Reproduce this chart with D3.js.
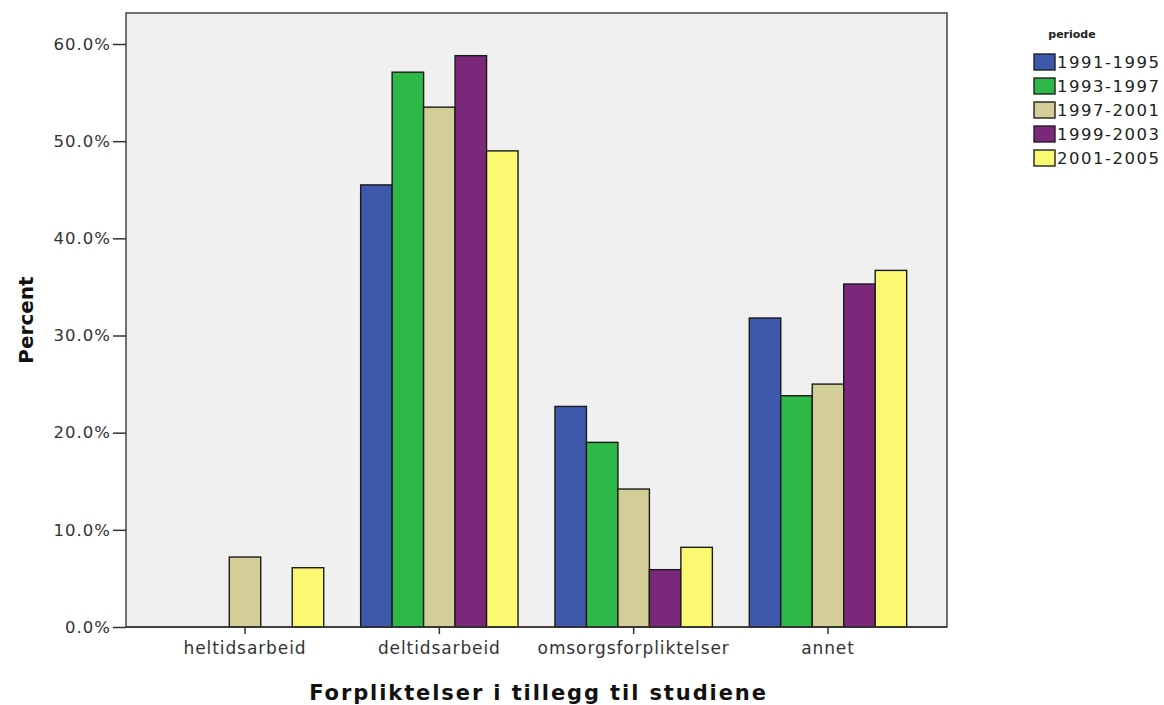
<!DOCTYPE html>
<html><head><meta charset="utf-8">
<script src="https://cdn.jsdelivr.net/npm/d3@7"></script>
<style>body{margin:0;background:#fff;}svg{display:block;font-family:"DejaVu Sans",Verdana,sans-serif;}</style>
</head><body><svg id="c" width="1164" height="705"></svg>
<script>
const categories = ["heltidsarbeid","deltidsarbeid","omsorgsforpliktelser","annet"];
const periods = ["1991-1995","1993-1997","1997-2001","1999-2003","2001-2005"];
const colors = ["#3e58ac","#2eb848","#d3ce97","#7b287b","#fbf872"];
const v1991 = [0, 45.5, 22.7, 31.8];
const v1993 = [0, 57.1, 19.0, 23.8];
const v1997 = [7.2, 53.5, 14.2, 25.0];
const v1999 = [0, 58.8, 5.9, 35.3];
const v2001 = [6.1, 49.0, 8.2, 36.7];
const seriesValues = [v1991, v1993, v1997, v1999, v2001];
const yTicks = [0,10,20,30,40,50,60];

const svg = d3.select("#c");
const L=126, R=947, T=13, B=627;
const FF = '"DejaVu Sans",Verdana,sans-serif';
const x = d3.scaleBand().domain(categories).range([L,R]).paddingInner(0.19).paddingOuter(0.2075);
const xs = d3.scaleBand().domain(periods).range([0,x.bandwidth()]);
const y = d3.scaleLinear().domain([0,60]).range([B,44]);

svg.append("rect").attr("x",L).attr("y",T).attr("width",R-L).attr("height",B-T)
  .attr("fill","#f0f0f0").attr("stroke","#444").attr("stroke-width",1.5);

const rows = [];
categories.forEach((c,i)=>periods.forEach((p,j)=>rows.push({c,p,j,v:seriesValues[j][i]})));
svg.append("g").selectAll("rect").data(rows).join("rect")
  .attr("x",d=>x(d.c)+xs(d.p)).attr("width",xs.bandwidth())
  .attr("y",d=>y(d.v)).attr("height",d=>B-y(d.v))
  .attr("fill",d=>colors[d.j]).attr("stroke","#1a1a1a").attr("stroke-width",1.4);

const ya = svg.append("g").attr("transform",`translate(${L},0)`)
  .call(d3.axisLeft(y).tickValues(yTicks).tickFormat(d=>d.toFixed(1)+"%").tickSize(13).tickPadding(2));
ya.attr("font-family",FF).attr("font-size",15);
ya.select(".domain").remove();
ya.selectAll("line").attr("stroke","#333").attr("stroke-width",1.5);
ya.selectAll("text").style("font-size","16.5px").style("letter-spacing","1px").attr("fill","#333");

const xa = svg.append("g").attr("transform",`translate(0,${B})`)
  .call(d3.axisBottom(x).tickSize(7).tickPadding(8));
xa.attr("font-family",FF).attr("font-size",15);
xa.select(".domain").remove();
xa.selectAll("line").attr("stroke","#333").attr("stroke-width",1.5);
xa.selectAll("text").style("font-size","17px").style("letter-spacing","0.9px").attr("fill","#333");

svg.append("line").attr("x1",L).attr("x2",R).attr("y1",B).attr("y2",B).attr("stroke","#333").attr("stroke-width",1.5);

svg.append("text").attr("x",(L+R)/2+2).attr("y",700).attr("text-anchor","middle")
  .attr("font-size",21).attr("font-weight","bold").attr("letter-spacing",1.9).attr("fill","#111")
  .text("Forpliktelser i tillegg til studiene");
svg.append("text").attr("transform","translate(33,320) rotate(-90)").attr("text-anchor","middle")
  .attr("font-size",20).attr("font-weight","bold").attr("fill","#111").text("Percent");

const lg = svg.append("g");
lg.append("text").attr("x",1072).attr("y",38).attr("text-anchor","middle").attr("font-size",11)
  .attr("font-weight","bold").attr("fill","#222").text("periode");
periods.forEach((p,j)=>{
  const yy = 54 + j*24;
  lg.append("rect").attr("x",1034).attr("y",yy).attr("width",21).attr("height",16)
    .attr("fill",colors[j]).attr("stroke","#222").attr("stroke-width",1.4);
  lg.append("text").attr("x",1057).attr("y",yy+14).attr("font-size",16.5).attr("letter-spacing",1.5)
    .attr("fill","#222").text(p);
});
</script></body></html>
